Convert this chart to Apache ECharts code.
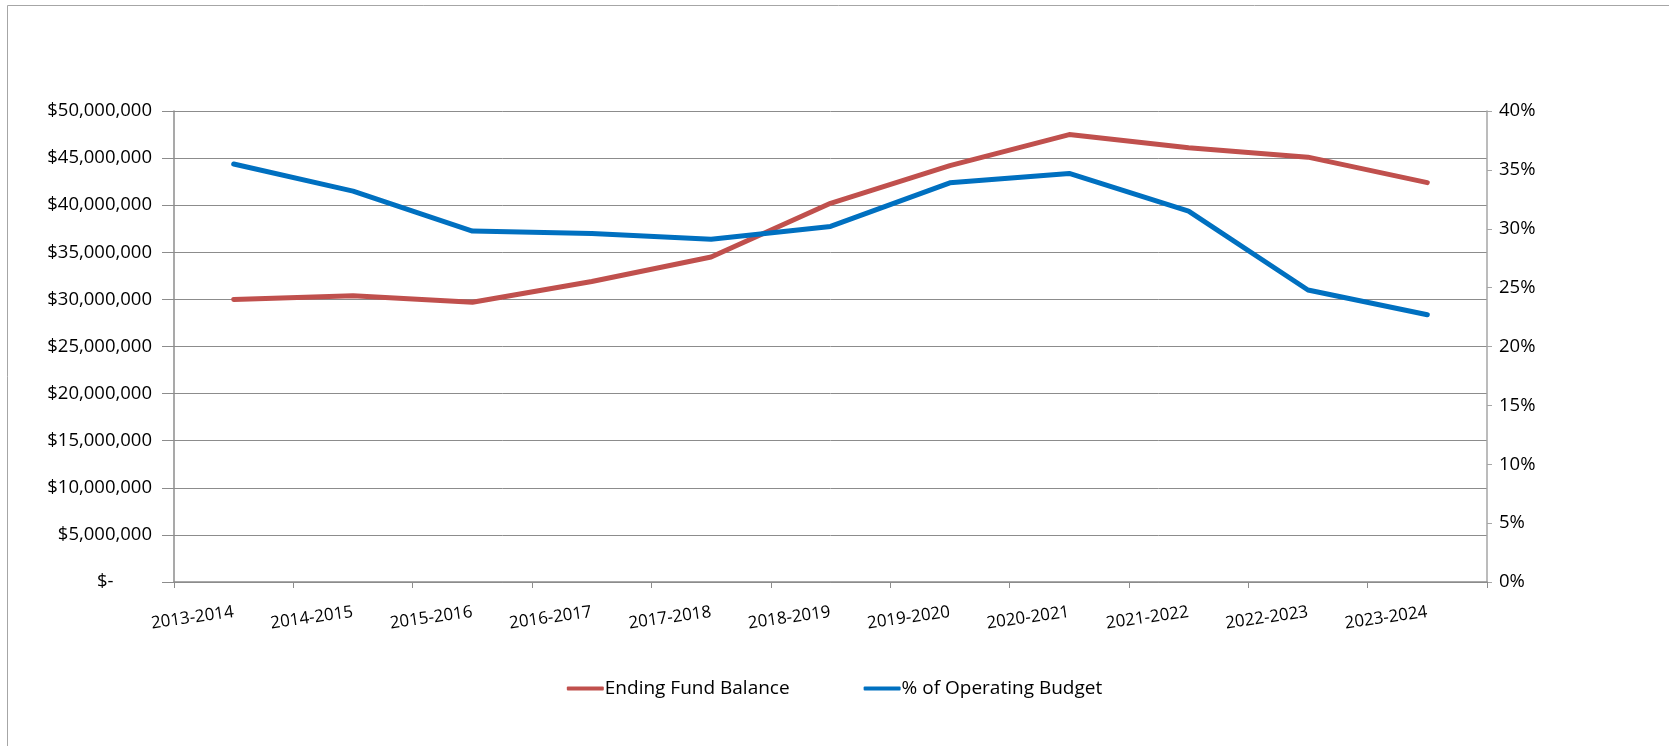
<!DOCTYPE html>
<html>
<head>
<meta charset="utf-8">
<script src="https://cdn.jsdelivr.net/npm/echarts@6/dist/echarts.min.js"></script>
<style>
  html, body { margin: 0; padding: 0; background: #fff; }
  #chart { width: 1669px; height: 746px; }
</style>
</head>
<body>
<div id="chart"></div>
<script>
// Fiscal years on the category axis
const years = ['2013-2014', '2014-2015', '2015-2016', '2016-2017', '2017-2018', '2018-2019',
               '2019-2020', '2020-2021', '2021-2022', '2022-2023', '2023-2024'];

// Ending fund balance, dollars
const endingFundBalance = [30000000, 30400000, 29700000, 31900000, 34500000, 40200000,
                           44200000, 47500000, 46100000, 45100000, 42400000];

// Fund balance as a share of the operating budget, percent
const pctOperatingBudget = [35.5, 33.2, 29.8, 29.6, 29.1, 30.2, 33.9, 34.7, 31.5, 24.8, 22.7];

const seriesNames = ['Ending Fund Balance', '% of Operating Budget'];

const FONT = '"Open Sans", "Liberation Sans", Arial, sans-serif';
const AXIS_GRAY = '#8c8c8c';

function dollars(v) {
  if (v === 0) return '$-        ';
  return '$' + v.toLocaleString('en-US');
}

const chart = echarts.init(document.getElementById('chart'));
chart.setOption({
  animation: false,
  color: ['#C0504D', '#0070C0'],
  textStyle: { fontFamily: FONT, color: '#000' },
  graphic: [{
    type: 'rect',
    shape: { x: 7.5, y: 5.5, width: 1700, height: 800 },
    style: { fill: 'none', stroke: '#a6a6a6', lineWidth: 1 },
    silent: true
  }],
  grid: { left: 174, right: 182, top: 111, bottom: 164 },
  legend: {
    bottom: 43,
    left: 'center',
    itemGap: 74,
    itemWidth: 37,
    itemHeight: 4,
    icon: 'roundRect',
    textStyle: { fontFamily: FONT, fontSize: 19, color: '#000', padding: [0, 0, 0, -4] },
    data: seriesNames
  },
  xAxis: {
    type: 'category',
    data: years,
    boundaryGap: true,
    axisLine: { lineStyle: { color: AXIS_GRAY, width: 1.5 } },
    axisTick: { show: true, length: 6, lineStyle: { color: AXIS_GRAY } },
    axisLabel: { rotate: 8, fontSize: 17, color: '#000', fontFamily: FONT, margin: 30, interval: 0 }
  },
  yAxis: [{
    type: 'value',
    min: 0, max: 50000000, interval: 5000000,
    axisLine: { show: true, lineStyle: { color: AXIS_GRAY, width: 1.5 } },
    axisTick: { show: true, inside: false, length: 12, lineStyle: { color: AXIS_GRAY } },
    splitLine: { show: true, lineStyle: { color: AXIS_GRAY, width: 1 } },
    axisLabel: { formatter: dollars, fontSize: 18.5, color: '#000', fontFamily: FONT, margin: 22 }
  }, {
    type: 'value',
    min: 0, max: 40, interval: 5,
    position: 'right',
    axisLine: { show: true, lineStyle: { color: '#a6a6a6', width: 1.5 } },
    axisTick: { show: true, length: 5, lineStyle: { color: '#a6a6a6' } },
    splitLine: { show: false },
    axisLabel: { formatter: '{value}%', fontSize: 18.5, color: '#000', fontFamily: FONT, margin: 12 }
  }],
  series: [{
    name: seriesNames[0],
    type: 'line',
    yAxisIndex: 0,
    data: endingFundBalance,
    symbol: 'none',
    lineStyle: { width: 5, cap: 'round', join: 'round' }
  }, {
    name: seriesNames[1],
    type: 'line',
    yAxisIndex: 1,
    data: pctOperatingBudget,
    symbol: 'none',
    lineStyle: { width: 5, cap: 'round', join: 'round' }
  }]
});
</script>
</body>
</html>
